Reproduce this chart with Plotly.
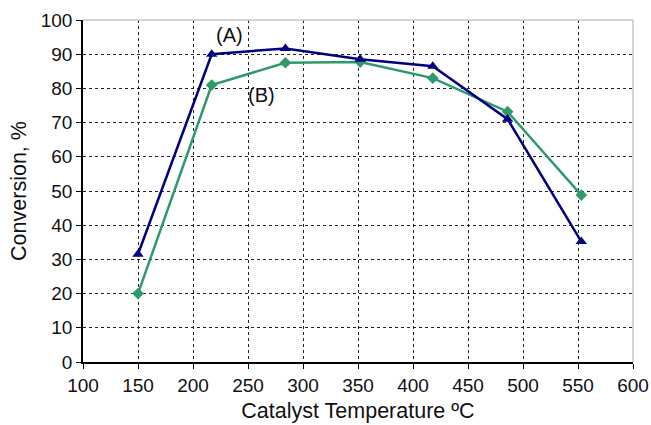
import plotly.graph_objects as go

temp_a = [150, 217, 284, 352, 418, 486, 553]
conv_a = [31.5, 90.0, 91.7, 88.5, 86.5, 71.0, 35.2]
temp_b = [150, 217, 284, 352, 418, 486, 553]
conv_b = [20.0, 81.0, 87.5, 87.7, 83.0, 73.2, 48.8]

fig = go.Figure()
fig.add_trace(go.Scatter(x=temp_b, y=conv_b, mode="lines+markers",
                         line=dict(color="#2E9A6A", width=2.5),
                         marker=dict(symbol="diamond", size=9, color="#2E9A6A"),
                         name="(B)", showlegend=False))
fig.add_trace(go.Scatter(x=temp_a, y=conv_a, mode="lines+markers",
                         line=dict(color="#000080", width=2.5),
                         marker=dict(symbol="triangle-up", size=10, color="#000080"),
                         name="(A)", showlegend=False))

fig.add_annotation(x=233, y=95.6, text="(A)", showarrow=False,
                   font=dict(size=20, color="#111"))
fig.add_annotation(x=262, y=78, text="(B)", showarrow=False,
                   font=dict(size=20, color="#111"))

fig.update_layout(
    width=651, height=425,
    margin=dict(l=83, r=18, t=20, b=63),
    paper_bgcolor="white", plot_bgcolor="white",
    font=dict(family="Liberation Sans, Arial", color="#111", size=19),
    xaxis=dict(range=[100, 600], dtick=50, tick0=100, automargin=False,
               ticklabeloverflow="allow",
               title=dict(text="Catalyst Temperature ºC", font=dict(size=21.5), standoff=8),
               showgrid=True, gridcolor="#222", griddash="dot", gridwidth=1,
               showline=True, linecolor="black", linewidth=1.5,
               ticks="outside", ticklen=5, tickcolor="black",
               mirror=False, zeroline=False),
    yaxis=dict(range=[0, 100], dtick=10, automargin=False,
               title=dict(text="Conversion, %", font=dict(size=21.5), standoff=8),
               showgrid=True, gridcolor="#222", griddash="dot", gridwidth=1,
               showline=True, linecolor="black", linewidth=1.5,
               ticks="outside", ticklen=5, tickcolor="black",
               zeroline=False),
)
fig.add_shape(type="line", xref="paper", yref="paper", x0=0, x1=1, y0=1, y1=1,
              line=dict(color="#c8c8c8", width=1.5))
fig.add_shape(type="line", xref="paper", yref="paper", x0=1, x1=1, y0=0, y1=1,
              line=dict(color="#c8c8c8", width=1.5))

fig.write_html("out.html")
